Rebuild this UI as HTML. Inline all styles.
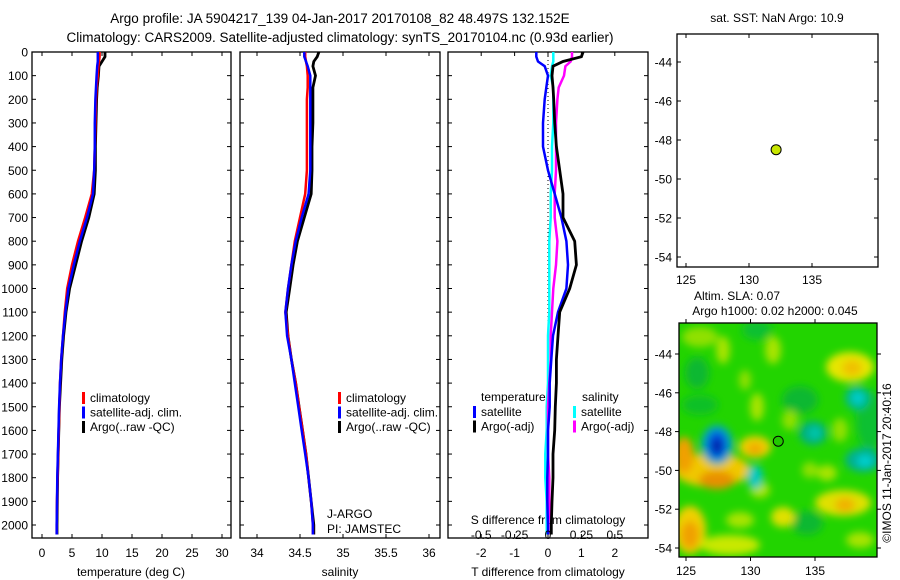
<!DOCTYPE html>
<html><head><meta charset="utf-8">
<style>
body{margin:0;background:#fff;}
svg{display:block;font-family:"Liberation Sans",sans-serif;}
</style></head>
<body>
<svg id="fig" width="900" height="580" viewBox="0 0 900 580">
<defs>
<filter id="blur" x="-50%" y="-50%" width="200%" height="200%"><feGaussianBlur stdDeviation="4"/></filter>
<clipPath id="mapclip"><rect x="679" y="323" width="198" height="234"/></clipPath>
</defs>
<text x="340" y="23" text-anchor="middle" font-size="13.5">Argo profile: JA 5904217_139 04-Jan-2017 20170108_82 48.497S 132.152E</text>
<text x="340" y="42" text-anchor="middle" font-size="13.5">Climatology: CARS2009. Satellite-adjusted climatology: synTS_20170104.nc (0.93d earlier)</text>
<text x="777" y="22" text-anchor="middle" font-size="12">sat. SST: NaN Argo: 10.9</text>
<text x="737" y="300" text-anchor="middle" font-size="12">Altim. SLA: 0.07</text>
<text x="775" y="315" text-anchor="middle" font-size="12">Argo h1000: 0.02 h2000: 0.045</text>
<text transform="translate(891,463) rotate(-90)" text-anchor="middle" font-size="12">©IMOS 11-Jan-2017 20:40:16</text>
<g id="g"></g>
</svg>
<script>
const depths=[0,20,40,60,100,150,200,300,400,500,600,700,800,900,1000,1100,1200,1300,1400,1500,1600,1700,1800,1900,2000,2040];
const tempArgo=[10.5,10.5,10,9.5,9.4,9.2,9.1,9.0,8.9,8.9,8.7,7.8,6.6,5.6,4.6,4.0,3.6,3.3,3.1,2.9,2.8,2.7,2.6,2.55,2.5,2.5];
const tempClim=[9.6,9.6,9.5,9.4,9.3,9.1,9.0,8.9,8.8,8.7,8.3,7.2,6.0,5.0,4.2,3.8,3.5,3.2,3.0,2.9,2.8,2.7,2.6,2.5,2.45,2.45];
const tempSat=[9.3,9.3,9.3,9.2,9.1,9.0,8.9,8.8,8.8,8.7,8.5,7.5,6.3,5.3,4.4,3.9,3.5,3.2,3.0,2.85,2.75,2.65,2.55,2.5,2.45,2.45];
const salArgo=[34.72,34.70,34.66,34.65,34.68,34.65,34.65,34.65,34.64,34.64,34.63,34.55,34.47,34.42,34.38,34.34,34.36,34.40,34.45,34.49,34.53,34.57,34.60,34.63,34.66,34.66];
const salClim=[34.56,34.56,34.57,34.58,34.59,34.59,34.58,34.58,34.58,34.58,34.56,34.50,34.44,34.40,34.36,34.33,34.36,34.40,34.45,34.49,34.53,34.57,34.60,34.63,34.65,34.65];
const salSat=[34.55,34.55,34.57,34.59,34.62,34.62,34.62,34.62,34.62,34.62,34.60,34.52,34.45,34.40,34.36,34.33,34.35,34.40,34.44,34.48,34.52,34.56,34.60,34.63,34.65,34.65];
const tDiffArgo=[1.05,1.0,0.45,0.15,0.12,0.15,0.17,0.2,0.25,0.35,0.45,0.45,0.8,0.85,0.65,0.35,0.3,0.25,0.25,0.22,0.2,0.15,0.15,0.12,0.1,0.1];
const tDiffSat=[-0.35,-0.35,-0.3,-0.1,0,-0.05,-0.1,-0.15,-0.15,0,0.2,0.4,0.55,0.6,0.55,0.3,0.15,0.1,0.05,0.05,0.0,0.0,-0.02,-0.02,0,0];
const sDiffSat=[0.04,0.04,0.04,0.03,0.02,0.04,0.04,0.04,0.03,0.03,0.02,0.02,0.01,0.01,0.01,0.01,0.0,0.0,0.0,-0.01,-0.01,-0.02,-0.02,-0.01,-0.01,-0.01];
const sDiffArgo=[0.18,0.18,0.17,0.13,0.12,0.08,0.07,0.06,0.06,0.06,0.05,0.05,0.07,0.06,0.04,0.03,0.02,0.02,0.01,0.0,0.0,0.0,0.01,0.01,0.02,0.02];
const depthTicks=[0,100,200,300,400,500,600,700,800,900,1000,1100,1200,1300,1400,1500,1600,1700,1800,1900,2000];
const tempTicks=[0,5,10,15,20,25,30];
const salTicks=[34,34.5,35,35.5,36];
const tDiffTicks=[-2,-1,0,1,2];
const sDiffTicks=[-0.5,-0.25,0,0.25,0.5];
const sDiffLabels=["-0.5","-0.25","0","0.25","0.5"];
const lonTicks=[125,130,135];
const latTicks=[-44,-46,-48,-50,-52,-54];
const argoLon=[132.152];
const argoLat=[-48.497];

const NS="http://www.w3.org/2000/svg";
const G=document.getElementById('g');
function mk(tag,attrs,parent){const e=document.createElementNS(NS,tag);for(const k in attrs)e.setAttribute(k,attrs[k]);(parent||G).appendChild(e);return e;}
function txt(x,y,s,size,anchor,parent){const t=mk('text',{x:x,y:y,'font-size':size,'text-anchor':anchor||'middle'},parent);t.textContent=s;return t;}

const yD=d=>52+d*0.2365;
const xT=v=>42+v*6;
const xS=v=>257+(v-34)*86;
const xTD=v=>548+v*33.4;
const xSD=v=>548+v*133.6;

function panel(x0,x1,name){
  const r=mk('rect',{x:x0,y:52,width:x1-x0,height:486,fill:'none',stroke:'#000','stroke-width':1.3});
  
  
  depthTicks.forEach(d=>{const y=yD(d);mk('line',{x1:x0,x2:x0+4,y1:y,y2:y,stroke:'#000'});mk('line',{x1:x1,x2:x1-4,y1:y,y2:y,stroke:'#000'});});
}
function line(xs,vals,xf,color,name,w){
  const pts=vals.map((v,i)=>xf(v).toFixed(1)+','+yD(depths[i]).toFixed(1)).join(' ');
  const p=mk('polyline',{points:pts,fill:'none',stroke:color,'stroke-width':w||2.5,'stroke-linejoin':'miter'});
  
  
}
function xticks(ticks,xf,x0,x1,labels,ly){
  ticks.forEach((t,i)=>{const x=xf(t);mk('line',{x1:x,x2:x,y1:538,y2:534,stroke:'#000'});mk('line',{x1:x,x2:x,y1:52,y2:56,stroke:'#000'});
    const l=txt(x,ly,labels?labels[i]:String(t),12);});
}
panel(32,231,'temperature-panel');
depthTicks.forEach(d=>{const l=txt(28,yD(d)+4.5,String(d),12,'end');});
xticks(tempTicks,xT,32,231,null,557);
txt(131,576,'temperature (deg C)',12);
line(0,tempArgo,xT,'#000','temp-argo-line',2.8);
line(0,tempClim,xT,'#f00','temp-climatology-line');
line(0,tempSat,xT,'#00f','temp-satellite-line');
panel(240,440,'salinity-panel');
xticks(salTicks,xS,240,440,null,557);
txt(340,576,'salinity',12);
line(0,salArgo,xS,'#000','sal-argo-line',2.8);
line(0,salClim,xS,'#f00','sal-climatology-line');
line(0,salSat,xS,'#00f','sal-satellite-line');
function legend(x,entries,name){
  entries.forEach((e,i)=>{const y=397+i*14.5;
    const b=mk('rect',{x:x,y:y-5,width:3,height:12,fill:e[0]});
    
    const t=txt(x+8,y+5,e[1],12,'start');});
}
const legEntries=[['#f00','climatology'],['#00f','satellite-adj. clim.'],['#000','Argo(..raw -QC)']];
legend(82,legEntries,'temp-legend');
legend(338,legEntries,'sal-legend');
txt(327,518,'J-ARGO',12,'start');
txt(327,533,'PI: JAMSTEC',12,'start');
panel(448,648,'difference-panel');
mk('line',{x1:548,x2:548,y1:52,y2:538,stroke:'#000','stroke-dasharray':'1,3'});
xticks(tDiffTicks,xTD,448,648,null,557);
txt(548,524,'S difference from climatology',12);
txt(548,576,'T difference from climatology',12);
line(0,sDiffSat,xSD,'#0ff','sdiff-satellite-line');
line(0,sDiffArgo,xSD,'#f0f','sdiff-argo-line');
line(0,tDiffSat,xTD,'#00f','tdiff-satellite-line');
line(0,tDiffArgo,xTD,'#000','tdiff-argo-line',2.8);
sDiffTicks.forEach((t,i)=>{const l=txt(xSD(t),539,sDiffLabels[i],12);});
txt(481,401,'temperature',12,'start');
txt(582,401,'salinity',12,'start');
[['#00f','satellite',473],['#000','Argo(-adj)',473],['#0ff','satellite',573],['#f0f','Argo(-adj)',573]].forEach((e,i)=>{
  const y=411+(i%2)*14.5;
  const b=mk('rect',{x:e[2],y:y-5,width:3,height:12,fill:e[0]});
  
  const t=txt(e[2]+8,y+5,e[1],12,'start');
});
const xL1=v=>686+(v-125)*12.6, yL1=v=>62+(-44-v)*19.5;
const p4=mk('rect',{x:677,y:34,width:201,height:233,fill:'none',stroke:'#000','stroke-width':1.3});

lonTicks.forEach(t=>{const x=xL1(t);mk('line',{x1:x,x2:x,y1:267,y2:263,stroke:'#000'});mk('line',{x1:x,x2:x,y1:34,y2:38,stroke:'#000'});txt(x,284,String(t),12);});
latTicks.forEach(t=>{const y=yL1(t);mk('line',{x1:677,x2:681,y1:y,y2:y,stroke:'#000'});mk('line',{x1:878,x2:874,y1:y,y2:y,stroke:'#000'});txt(672,y+4.5,String(t),12,'end');});
argoLon.forEach((lo,i)=>{const c=mk('circle',{cx:xL1(lo),cy:yL1(argoLat[i]),r:5,fill:'#c8e600',stroke:'#000'});});
const xL2=v=>686+(v-125)*12.9, yL2=v=>354+(-44-v)*19.4;
const mg=mk('g',{'clip-path':'url(#mapclip)'});
mk('rect',{x:679,y:323,width:198,height:234,fill:'#22d400'},mg);
const bg=mk('g',{filter:'url(#blur)'},mg);
const blobs=[
[697,373,12,16,'#0cb830'],[800,400,18,14,'#0cb830'],[807,523,16,12,'#0cb830'],[757,330,15,10,'#10c030'],[870,420,14,30,'#10c030'],[700,405,18,10,'#11c028'],
[723,350,7,14,'#a8e400'],[773,350,8,14,'#a8e400'],[757,407,7,14,'#a8e400'],[827,473,10,8,'#a8e400'],[760,490,10,8,'#a8e400'],[700,337,18,10,'#90e000'],
[790,420,8,10,'#90e000'],[840,430,8,12,'#90e000'],[740,520,14,8,'#a8e400'],[810,470,8,8,'#90e000'],[860,540,14,8,'#a8e400'],[745,380,6,10,'#90e000'],
[712,470,38,17,'#f0c800'],[684,455,10,18,'#f0a000'],[717,480,18,9,'#e89000'],
[690,530,16,24,'#f0d000'],[690,535,9,14,'#f0a000'],
[850,367,24,15,'#e6e600'],[852,368,10,8,'#f0c000'],
[755,447,16,11,'#f0d000'],[755,449,8,6,'#f0a800'],
[843,503,28,13,'#e0e000'],[845,505,10,7,'#f0b000'],[783,517,12,10,'#e0e000'],[730,545,30,10,'#c8e800'],
[717,445,16,20,'#00a8c0'],[717,445,10,14,'#0050e0'],[717,446,5,7,'#0020a0'],
[755,477,8,12,'#00c8c0'],[857,398,12,12,'#00b890'],[858,398,6,6,'#00d0d0'],
[813,433,14,12,'#00b080'],[815,433,6,6,'#00c8b0'],[863,460,18,12,'#00b090'],[865,461,8,6,'#00d0d0']];
blobs.forEach(b=>{mk('ellipse',{cx:b[0],cy:b[1],rx:b[2],ry:b[3],fill:b[4]},bg);});
const p5=mk('rect',{x:679,y:323,width:198,height:234,fill:'none',stroke:'#000','stroke-width':1.3});

lonTicks.forEach(t=>{const x=xL2(t);mk('line',{x1:x,x2:x,y1:557,y2:561,stroke:'#000'});mk('line',{x1:x,x2:x,y1:323,y2:319,stroke:'#000'});txt(x,575,String(t),12);});
latTicks.forEach(t=>{const y=yL2(t);mk('line',{x1:679,x2:675,y1:y,y2:y,stroke:'#000'});mk('line',{x1:877,x2:881,y1:y,y2:y,stroke:'#000'});txt(672,y+4.5,String(t),12,'end');});
argoLon.forEach((lo,i)=>{const c=mk('circle',{cx:xL2(lo),cy:yL2(argoLat[i]),r:5,fill:'#22c800',stroke:'#000'});});
</script>
</body></html>
